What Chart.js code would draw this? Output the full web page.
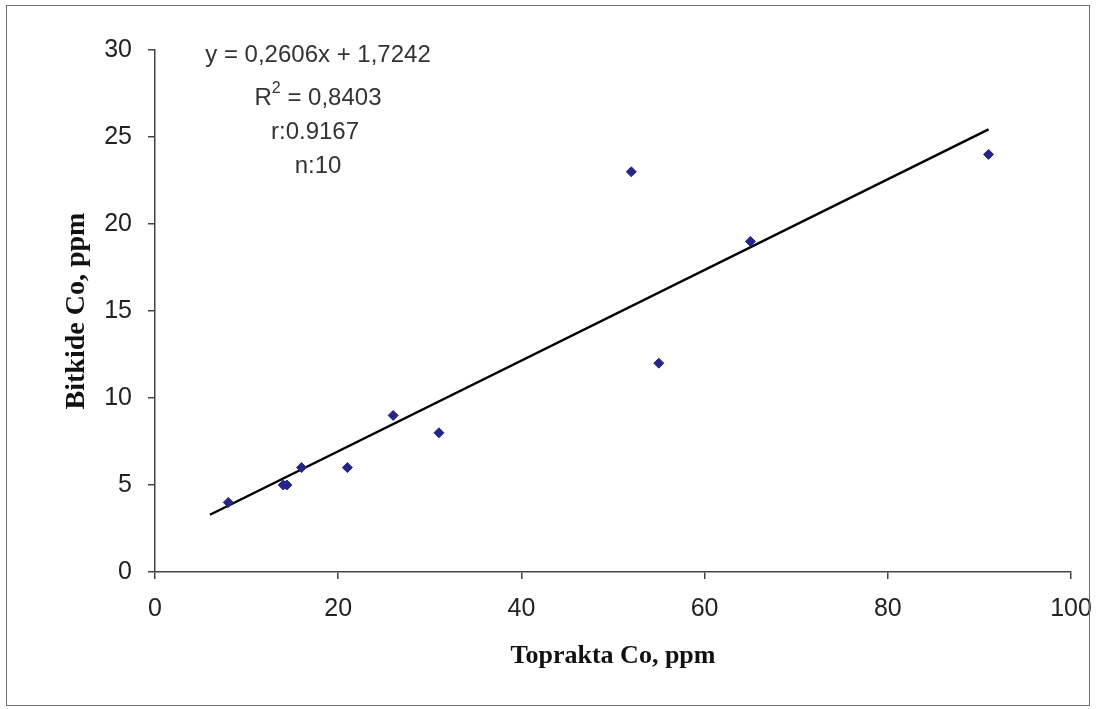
<!DOCTYPE html>
<html>
<head>
<meta charset="utf-8">
<script src="https://cdn.jsdelivr.net/npm/chart.js@4"></script>
<style>
  body { margin: 0; background: #fff; }
  #wrap { position: relative; width: 1096px; height: 709px; }
  #frame { position: absolute; left: 6px; top: 5px; width: 1082px; height: 699px;
           border: 1.5px solid #6e6e6e; pointer-events: none; }
</style>
</head>
<body>
<div id="wrap">
  <canvas id="c" width="1096" height="709"></canvas>
  <div id="frame"></div>
</div>
<script>
// soil Co vs plant Co
const soilCo  = [8, 14, 14.4, 16, 21, 26, 31, 52, 55, 65, 91];
const plantCo = [4, 5, 5, 6, 6, 9, 8, 23, 12, 19, 24];
// trend line end points
const trendX = [6, 91];
const trendY = [3.29, 25.44];

const xTicks = [0, 20, 40, 60, 80, 100];
const yTicks = [0, 5, 10, 15, 20, 25, 30];

const noteLines = ['y = 0,2606x + 1,7242', 'R2 = 0,8403', 'r:0.9167', 'n:10'];

const pts = soilCo.map((x, i) => ({x: x, y: plantCo[i]}));
const line = trendX.map((x, i) => ({x: x, y: trendY[i]}));

// equation text in the top left corner
const notePlugin = {
  id: 'note',
  afterDraw(chart) {
    const ctx = chart.ctx;
    const a = chart.chartArea;
    const cx = a.left + 163;
    const ys = [55, 98, 132, 166];
    ctx.save();
    ctx.fillStyle = '#333';
    ctx.textBaseline = 'middle';
    ctx.font = '24px "Liberation Sans", Arial, sans-serif';
    ctx.textAlign = 'center';
    ctx.fillText(noteLines[0], cx, ys[0]);
    // R² with superscript
    const p1 = 'R', p3 = ' = 0,8403';
    const w1 = ctx.measureText(p1).width;
    const w3 = ctx.measureText(p3).width;
    ctx.font = '16px "Liberation Sans", Arial, sans-serif';
    const w2 = ctx.measureText('2').width;
    let sx = cx - (w1 + w2 + w3) / 2;
    ctx.textAlign = 'left';
    ctx.font = '24px "Liberation Sans", Arial, sans-serif';
    ctx.fillText(p1, sx, ys[1]);
    ctx.font = '16px "Liberation Sans", Arial, sans-serif';
    ctx.fillText('2', sx + w1, ys[1] - 9);
    ctx.font = '24px "Liberation Sans", Arial, sans-serif';
    ctx.fillText(p3, sx + w1 + w2, ys[1]);
    ctx.textAlign = 'center';
    ctx.fillText(noteLines[2], cx - 3, ys[2]);
    ctx.fillText(noteLines[3], cx, ys[3]);
    ctx.restore();
  }
};

new Chart(document.getElementById('c'), {
  type: 'scatter',
  data: {
    datasets: [
      {
        data: pts,
        pointStyle: 'rectRot',
        pointRadius: 5,
        backgroundColor: '#26268a',
        borderColor: '#26268a',
        borderWidth: 1
      },
      {
        type: 'line',
        data: line,
        borderColor: '#000',
        borderWidth: 2.5,
        pointRadius: 0,
        fill: false
      }
    ]
  },
  options: {
    responsive: false,
    animation: false,
    layout: { padding: { top: 50, right: 25, left: 0, bottom: 0 } },
    plugins: { legend: { display: false }, tooltip: { enabled: false } },
    scales: {
      x: {
        type: 'linear',
        min: 0, max: 100,
        afterBuildTicks(s) { s.ticks = xTicks.map(v => ({value: v})); },
        afterFit(s) { s.height = 137; s.paddingRight = 0; s.paddingLeft = 0; },
        grid: { drawOnChartArea: false, tickLength: 7, color: '#444', lineWidth: 1.5 },
        border: { color: '#444', width: 1.5 },
        ticks: { color: '#222', padding: 15, maxRotation: 0,
                 font: { family: '"Liberation Sans", Arial, sans-serif', size: 25 } },
        title: { display: true, text: 'Toprakta Co, ppm', color: '#111',
                 padding: { top: 0, bottom: 37 },
                 font: { family: '"Liberation Serif", "Times New Roman", serif', size: 26, weight: 'bold' } }
      },
      y: {
        min: 0, max: 30,
        afterBuildTicks(s) { s.ticks = yTicks.map(v => ({value: v})); },
        afterFit(s) { s.width = 155; s.paddingTop = 0; s.paddingBottom = 0; },
        grid: { drawOnChartArea: false, tickLength: 7, color: '#444', lineWidth: 1.5 },
        border: { color: '#444', width: 1.5 },
        ticks: { color: '#222', padding: 16,
                 font: { family: '"Liberation Sans", Arial, sans-serif', size: 25 } },
        title: { display: true, text: 'Bitkide Co, ppm', color: '#111',
                 padding: { top: 60, bottom: 0 },
                 font: { family: '"Liberation Serif", "Times New Roman", serif', size: 28, weight: 'bold' } }
      }
    }
  },
  plugins: [notePlugin]
});
</script>
</body>
</html>
